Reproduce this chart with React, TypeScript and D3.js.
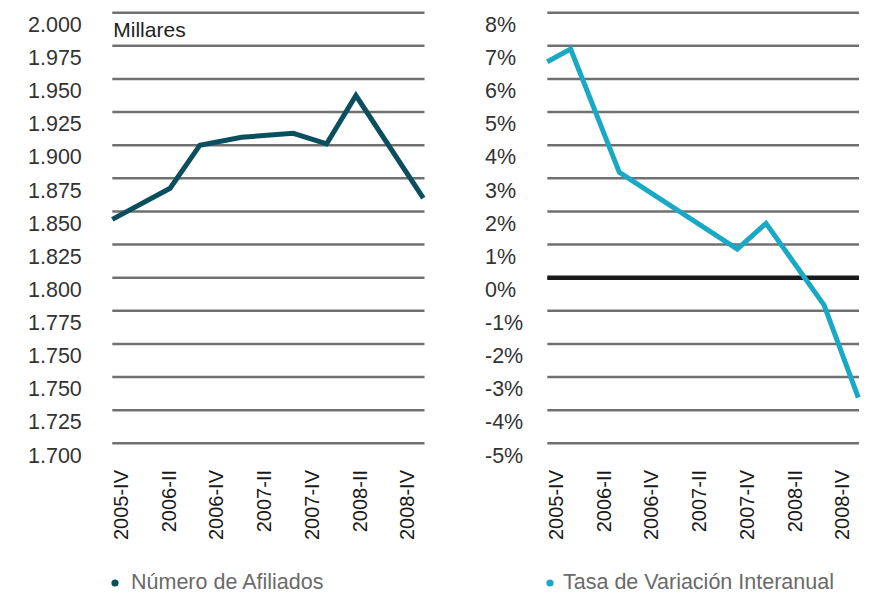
import React from "react";
import * as d3 from "d3";

// ---- Data ----
const quarterLabels = ["2005-IV", "2006-II", "2006-IV", "2007-II", "2007-IV", "2008-II", "2008-IV"];

// Left chart: Número de Afiliados (miles) – position in quarters from 2005-IV
const afiliadosPos = [0, 2.23, 3.38, 4.99, 6.98, 8.27, 9.4, 12];
const afiliadosVal = [1.844, 1.8675, 1.9, 1.906, 1.909, 1.901, 1.9375, 1.86];
const leftTickLabels = ["2.000", "1.975", "1.950", "1.925", "1.900", "1.875", "1.850", "1.825", "1.800", "1.775", "1.750", "1.750", "1.725", "1.700"];

// Right chart: Tasa de Variación Interanual (%)
const tasaPos = [0, 0.9, 2.78, 7.33, 8.44, 10.68, 12];
const tasaVal = [6.52, 6.9, 3.18, 0.86, 1.64, -0.83, -3.62];
const rightTicks = [8, 7, 6, 5, 4, 3, 2, 1, 0, -1, -2, -3, -4, -5];

const legendLeft = "Número de Afiliados";
const legendRight = "Tasa de Variación Interanual";

const W = 874;
const H = 596;
const TOP = 12.7;
const BOTTOM = 443.3;
const FONT = "'Liberation Sans', Arial, Helvetica, sans-serif";
const DARK = "#0b4f5e";
const CYAN = "#19a9c6";
const GRID = "#707070";

function Panel({ x0, x1, labelX, tickLabels, yGrid, linePath, color, legend, legendDotX, legendTextX, zeroY, title }: any) {
  const xl = d3.scalePoint<string>().domain(quarterLabels).range([x0 + 8.5, x0 + 295]);
  return (
    <g>
      {tickLabels.map((t: string, i: number) => (
        <g key={i}>
          <line x1={x0} x2={x1} y1={yGrid(i)} y2={yGrid(i)} stroke={GRID} strokeWidth={2.6} />
          <text x={labelX} y={yGrid(i) + 19.2} fontSize={21.5} fill="#333" fontFamily={FONT}>
            {t}
          </text>
        </g>
      ))}
      {zeroY !== undefined && (
        <line x1={x0} x2={x1} y1={zeroY} y2={zeroY} stroke="#1a1a1a" strokeWidth={4.5} />
      )}
      {title && (
        <text x={x0 + 1} y={36.5} fontSize={21} fill="#222" fontFamily={FONT}>
          {title}
        </text>
      )}
      <path d={linePath} fill="none" stroke={color} strokeWidth={5} strokeLinejoin="miter" strokeLinecap="butt" />
      {quarterLabels.map((q) => (
        <text
          key={q}
          transform={`translate(${xl(q)},470) rotate(-90)`}
          textAnchor="end"
          dy="0.35em"
          fontSize={20}
          fill="#1a1a1a"
          fontFamily={FONT}
        >
          {q}
        </text>
      ))}
      <circle cx={legendDotX} cy={583} r={3.6} fill={color} />
      <text x={legendTextX} y={589} fontSize={21.5} fill="#6a6a6a" fontFamily={FONT}>
        {legend}
      </text>
    </g>
  );
}

export default function App() {
  // Left
  const lx0 = 112.3, lx1 = 424.5;
  const lxs = d3.scaleLinear().domain([0, 12]).range([lx0, 423.3]);
  const lys = d3.scaleLinear().domain([1.675, 2.0]).range([BOTTOM, TOP]);
  const lGrid = d3.scaleLinear().domain([0, leftTickLabels.length - 1]).range([TOP, BOTTOM]);
  const lLine = d3
    .line<number>()
    .x((_, i) => lxs(afiliadosPos[i]))
    .y((d) => lys(d))(afiliadosVal) as string;

  // Right
  const rx0 = 547.3, rx1 = 859;
  const rxs = d3.scaleLinear().domain([0, 12]).range([rx0, 858.3]);
  const rys = d3.scaleLinear().domain([-5, 8]).range([BOTTOM, TOP]);
  const rLine = d3
    .line<number>()
    .x((_, i) => rxs(tasaPos[i]))
    .y((d) => rys(d))(tasaVal) as string;
  const rLabels = rightTicks.map((t) => `${t}%`);

  return (
    <svg
      width={W}
      height={H}
      viewBox={`0 0 ${W} ${H}`}
      style={{ position: "absolute", left: 0, top: 0, background: "#fff", display: "block" }}
    >
      <rect width={W} height={H} fill="#fff" />
      <Panel
        x0={lx0}
        x1={lx1}
        labelX={28}
        tickLabels={leftTickLabels}
        yGrid={lGrid}
        linePath={lLine}
        color={DARK}
        legend={legendLeft}
        legendDotX={115}
        legendTextX={131}
        title="Millares"
      />
      <Panel
        x0={rx0}
        x1={rx1}
        labelX={485}
        tickLabels={rLabels}
        yGrid={(i: number) => rys(rightTicks[i])}
        linePath={rLine}
        color={CYAN}
        legend={legendRight}
        legendDotX={550}
        legendTextX={563}
        zeroY={rys(0)}
      />
    </svg>
  );
}
